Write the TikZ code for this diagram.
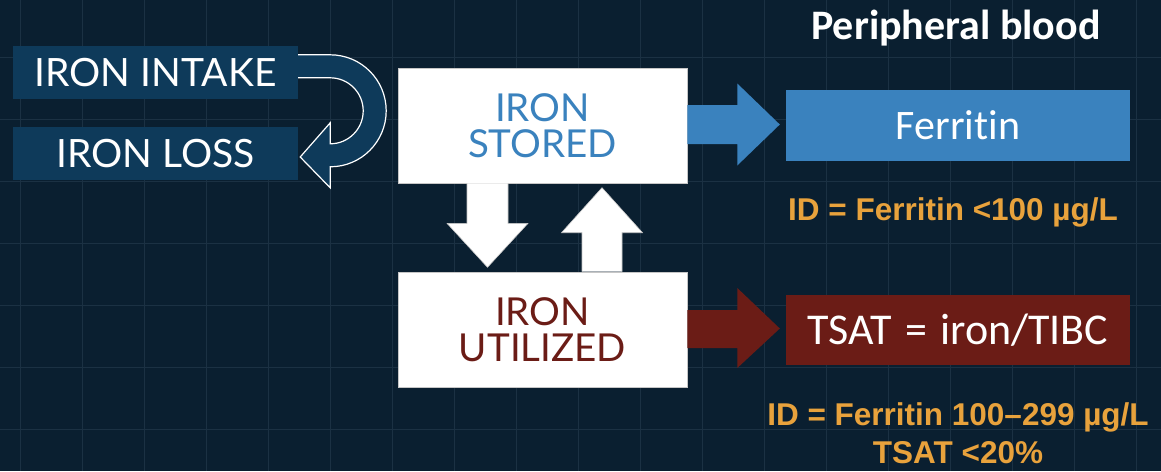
\documentclass[tikz,border=0pt]{standalone}
\usepackage{fontspec}
\setmainfont{Lato}
\newfontfamily\calfont{Carlito}[RawFeature={-liga}]
\newfontfamily\arialfont{Liberation Sans}
\usetikzlibrary{calc}

\definecolor{bgnavy}{RGB}{10,31,48}
\definecolor{gridc}{RGB}{27,49,67}
\definecolor{navyfill}{RGB}{14,58,90}
\definecolor{storeblue}{RGB}{58,130,190}
\definecolor{utilred}{RGB}{107,28,22}
\definecolor{idorange}{RGB}{232,162,60}

\tikzset{
  navybox/.style={fill=navyfill, text=white, inner sep=0pt,
    minimum width=285pt, minimum height=53pt,
    font=\fontsize{39}{39}\selectfont},
  poolbox/.style={fill=white, draw=gray!45, line width=0.6pt, inner sep=0pt,
    minimum width=289pt, minimum height=115pt, align=center,
    font=\fontsize{38.5}{35.5}\selectfont},
  bloodbox/.style={inner sep=0pt, text=white,
    minimum width=344pt, minimum height=71pt,
    font=\calfont\fontsize{42}{42}\selectfont},
  idtext/.style={text=idorange, inner sep=0pt,
    font=\arialfont\bfseries\fontsize{31.5}{36}\selectfont},
  whitearrow/.style={fill=white, draw=gray!45, line width=0.6pt},
}

\begin{document}
\begin{tikzpicture}[x=1pt,y=-1pt]
\useasboundingbox (0,0) rectangle (1161,471);
\fill[bgnavy] (0,0) rectangle (1161,471);

% faint background grid
\foreach \gx in {20,82,...,1200}
  \draw[gridc, line width=0.8pt] (\gx,0) -- (\gx,471);
\foreach \gy in {57,119,...,471}
  \draw[gridc, line width=0.8pt] (0,\gy) -- (1161,\gy);

% intake / loss
\node[navybox] (intake) at (155.5,72.5) {IRON INTAKE};
\node[navybox] (loss) at (155.5,153.5) {IRON LOSS};

% U-turn arrow from intake back to loss
\coordinate (uc) at ($(intake.north east)+(32,65)$);
\fill[navyfill] ($(intake.north east)+(0,9)$) -- ($(uc)+(0,-56)$)
  arc[start angle=-90, end angle=90, radius=56]
  -- ($(uc)+(0,77)$) -- ($(loss.east)+(2,3.5)$) -- ($(uc)+(0,12)$)
  -- ($(uc)+(0,33)$) arc[start angle=90, end angle=-90, radius=33]
  -- ($(intake.north east)+(0,32)$) -- cycle;
\draw[white, line width=1.2pt, line join=miter]
  ($(intake.north east)+(0,9)$) -- ($(uc)+(0,-56)$)
  arc[start angle=-90, end angle=90, radius=56]
  -- ($(uc)+(0,77)$) -- ($(loss.east)+(2,3.5)$) -- ($(uc)+(0,12)$)
  -- ($(uc)+(0,33)$) arc[start angle=90, end angle=-90, radius=33]
  -- ($(intake.north east)+(0,32)$);

% iron pools
\node[poolbox, text=storeblue] (stored) at (542.5,125.5) {IRON\\STORED};
\node[poolbox, text=utilred] (utilized) at (542.5,329.5) {IRON\\UTILIZED};

% exchange arrows between the pools
\coordinate (dn) at ($(stored.south)+(-55,0)$);
\draw[whitearrow] ($(dn)+(-20.5,0)$) -- ($(dn)+(-20.5,40)$) -- ($(dn)+(-40.5,40)$)
  -- ($(dn)+(0,84)$) -- ($(dn)+(40.5,40)$) -- ($(dn)+(20.5,40)$) -- ($(dn)+(20.5,0)$);
\coordinate (up) at ($(utilized.north)+(59.5,0)$);
\draw[whitearrow] ($(up)+(-20,0)$) -- ($(up)+(-20,-39)$) -- ($(up)+(-40.5,-39)$)
  -- ($(up)+(0,-84)$) -- ($(up)+(40.5,-39)$) -- ($(up)+(20,-39)$) -- ($(up)+(20,0)$);

% peripheral blood markers
\node[font=\calfont\bfseries\fontsize{42}{42}\selectfont, text=white] (title) at (956,28) {Peripheral blood};
\node[bloodbox, fill=storeblue] (ferritin) at (958,125.5) {Ferritin};
\node[bloodbox, fill=utilred, minimum height=70pt, font=\calfont\fontsize{44}{44}\selectfont]
  (tsat) at (958,330) {TSAT\hspace{0.3em}=\hspace{0.3em}iron/TIBC};

\fill[storeblue] ($(stored.east)+(0,-20.5)$) -- ($(stored.east)+(50,-20.5)$)
  -- ($(stored.east)+(50,-42)$) -- ($(ferritin.west)+(-6,-1)$)
  -- ($(stored.east)+(50,40)$) -- ($(stored.east)+(50,18.5)$) -- ($(stored.east)+(0,18.5)$) -- cycle;
\fill[utilred] ($(utilized.east)+(0,-19.5)$) -- ($(utilized.east)+(50,-19.5)$)
  -- ($(utilized.east)+(50,-41.5)$) -- ($(tsat.west)+(-6,-1.5)$)
  -- ($(utilized.east)+(50,38.5)$) -- ($(utilized.east)+(50,18.5)$) -- ($(utilized.east)+(0,18.5)$) -- cycle;

% iron deficiency criteria
\node[idtext] (id1) at (953,212) {ID = Ferritin <100 µg/L};
\node[idtext] (id2) at (958,417) {ID = Ferritin 100–299 µg/L};
\node[idtext] (id3) at (958,453) {TSAT <20\%};
\end{tikzpicture}
\end{document}
